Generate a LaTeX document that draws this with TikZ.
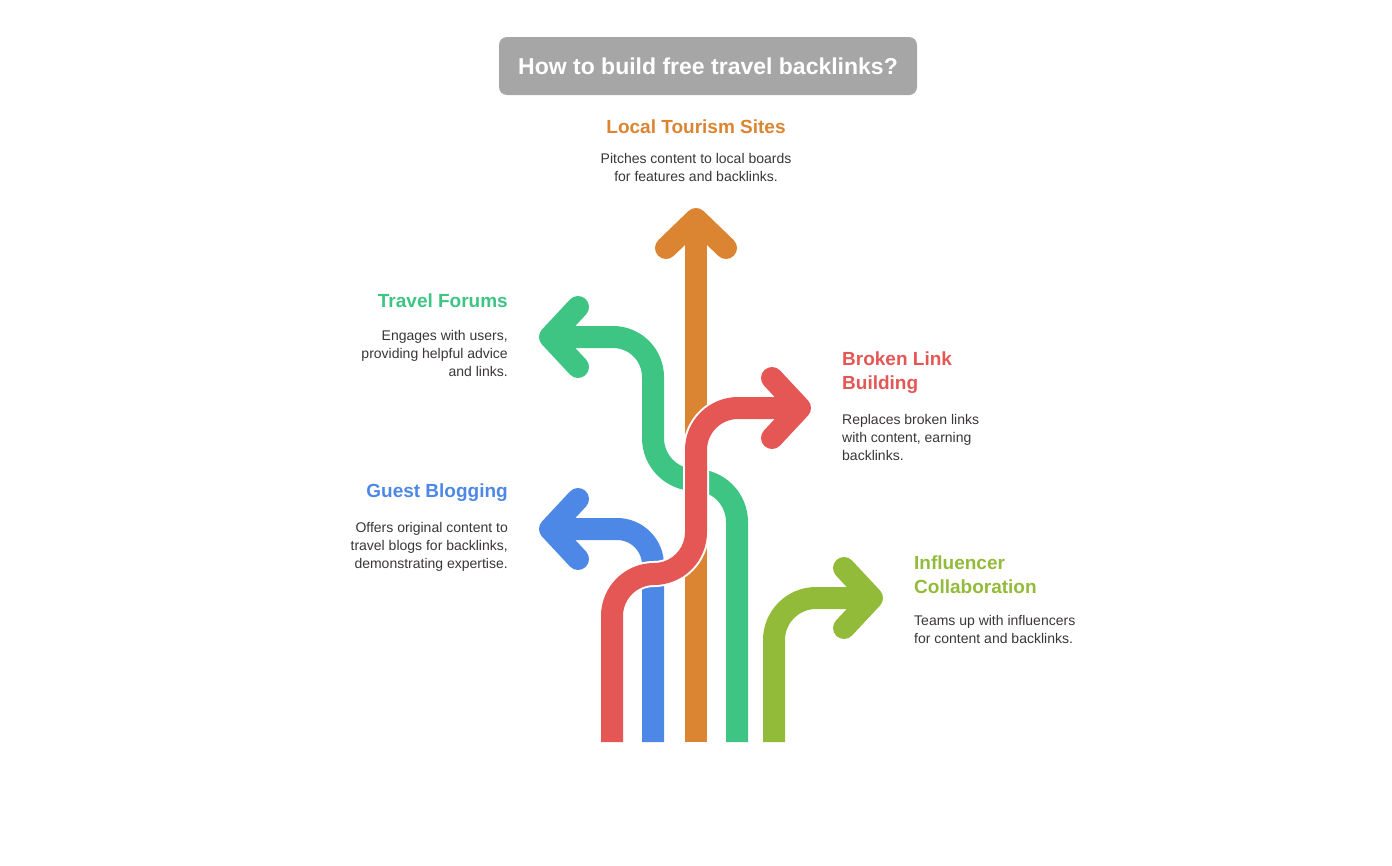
\documentclass[tikz,border=0pt]{standalone}
\usepackage{fontspec}
\setmainfont{Liberation Sans}
\usetikzlibrary{positioning}
\definecolor{cOrange}{HTML}{DB8432}
\definecolor{cGreen}{HTML}{3EC583}
\definecolor{cRed}{HTML}{E45755}
\definecolor{cBlue}{HTML}{4E88E6}
\definecolor{cLime}{HTML}{93BB3A}
\definecolor{cText}{HTML}{3A3636}
\definecolor{cTitle}{HTML}{A6A6A6}
\tikzset{
  band/.style={line width=22pt, line cap=butt, line join=round, draw=#1},
  rim/.style={line width=26pt, line cap=butt, line join=round, draw=white},
  head/.style={line width=22pt, line cap=round, line join=round, draw=#1},
  heading/.style={inner sep=0pt, font=\fontsize{19}{24}\selectfont\bfseries, text=#1},
  body/.style={inner sep=0pt, font=\fontsize{14}{18}\selectfont, text=cText},
}
\begin{document}
\begin{tikzpicture}[x=1pt, y=-1pt]
   \useasboundingbox (0,0) rectangle (1392,865);

   % title
   \node[fill=cTitle, rounded corners=8pt, minimum width=418pt, minimum height=58pt,
         text=white, font=\fontsize{23}{28}\selectfont\bfseries] (title) at (708,66)
         {How to build free travel backlinks?};

   % blue
   \draw[band=cBlue] (653,742) -- (653,565) arc[start angle=0, end angle=-90, radius=36]
        -- (562,529);
   \draw[head=cBlue] (578,499) -- (550,529) -- (578,559);

   % green
   \draw[rim] (737,742) -- (737,522) arc[start angle=0, end angle=-90, radius=42]
        arc[start angle=90, end angle=180, radius=42] -- (653,377)
        arc[start angle=0, end angle=-90, radius=40] -- (562,337);
   \draw[band=cGreen] (737,742) -- (737,522) arc[start angle=0, end angle=-90, radius=42]
        arc[start angle=90, end angle=180, radius=42] -- (653,377)
        arc[start angle=0, end angle=-90, radius=40] -- (562,337);
   \draw[head=cGreen] (578,307) -- (550,337) -- (578,367);

   % orange
   \draw[rim] (696,742) -- (696,232);
   \draw[band=cOrange] (696,742) -- (696,232);
   \draw[head=cOrange] (666,248) -- (696,219) -- (726,248);

   % red
   \draw[rim] (612,742) -- (612,616) arc[start angle=180, end angle=270, radius=42]
        arc[start angle=90, end angle=0, radius=42] -- (696,450)
        arc[start angle=180, end angle=270, radius=42] -- (790,408);
   \draw[band=cRed] (612,742) -- (612,616) arc[start angle=180, end angle=270, radius=42]
        arc[start angle=90, end angle=0, radius=42] -- (696,450)
        arc[start angle=180, end angle=270, radius=42] -- (790,408);
   \draw[head=cRed] (772,378) -- (800,408) -- (772,438);

   % lime
   \draw[band=cLime] (774,742) -- (774,640) arc[start angle=180, end angle=270, radius=42]
        -- (862,598);
   \draw[head=cLime] (844,568) -- (872,598) -- (844,628);

   % labels
   \node[heading=cOrange] (tour) at (696,127) {Local Tourism Sites};
   \node[body, align=center, anchor=north] (tourTxt) at (696,153)
        {Pitches content to local boards\\for features and backlinks.};

   \node[heading=cGreen, anchor=east] (forum) at (508,301) {Travel Forums};
   \node[body, align=right, anchor=north east] (forumTxt) at (508,330)
        {Engages with users,\\providing helpful advice\\and links.};

   \node[heading=cBlue, anchor=east] (guest) at (508,493) {Guest Blogging};
   \node[body, align=right, anchor=north east] (guestTxt) at (508,522)
        {Offers original content to\\travel blogs for backlinks,\\demonstrating expertise.};

   \node[heading=cRed, align=left, anchor=north west] (broken) at (842,352)
        {Broken Link\\Building};
   \node[body, align=left, anchor=north west] (brokenTxt) at (842,414)
        {Replaces broken links\\with content, earning\\backlinks.};

   \node[heading=cLime, align=left, anchor=north west] (infl) at (914,556)
        {Influencer\\Collaboration};
   \node[body, align=left, anchor=north west] (inflTxt) at (914,615)
        {Teams up with influencers\\for content and backlinks.};
\end{tikzpicture}
\end{document}
